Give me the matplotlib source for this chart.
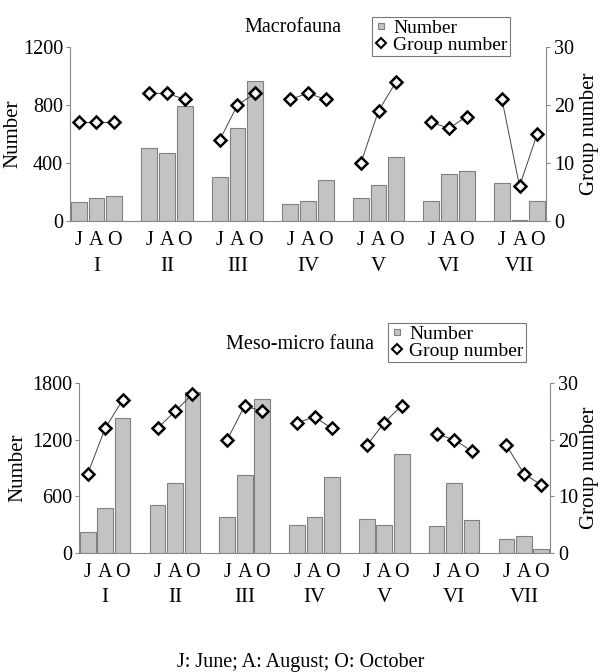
import matplotlib
matplotlib.use("Agg")
import matplotlib.pyplot as plt
from matplotlib.lines import Line2D
import numpy as np

plt.rcParams['font.family'] = ['Liberation Serif', 'DejaVu Serif']

sites = ["I", "II", "III", "IV", "V", "VI", "VII"]
months = ["J", "A", "O"]

macro_number = [128, 162, 169, 505, 471, 795, 305, 639, 967, 118, 138, 284,
                157, 247, 443, 138, 325, 344, 263, 7, 138]
macro_groups = [17, 17, 17, 22, 22, 21, 14, 20, 22, 21, 22, 21,
                10, 19, 24, 17, 16, 18, 21, 6, 15]

meso_number = [222, 476, 1430, 508, 738, 1701, 385, 826, 1631, 297, 385, 805,
               360, 297, 1048, 290, 738, 346, 148, 184, 42]
meso_groups = [14, 22, 27, 22, 25, 28, 20, 26, 25, 23, 24, 22,
               19, 23, 26, 21, 20, 18, 19, 14, 12]

W, H = 602, 672
fig = plt.figure(figsize=(W / 100, H / 100), dpi=100)

FS = 14.5
LFS = 15
BAR_C = '#c3c3c3'
EDGE_C = '#808080'
SPINE_C = '#888888'
PX = 72 / 100  # points per pixel


def panel(rect, number, groups, ymax, yticks, title, title_xy, legend_xy, lpad, rpad):
    ax = fig.add_axes(rect)
    x = []
    for g in range(len(sites)):
        for k in range(3):
            x.append(g * 4 + k)
    x = np.array(x)
    ax.bar(x, number, width=0.9, color=BAR_C, edgecolor=EDGE_C, linewidth=0.8, zorder=2)
    ax.set_xlim(-0.5, x[-1] + 0.5)
    ax.set_ylim(0, ymax)
    ax.set_yticks(yticks)
    ax.set_yticklabels([str(v) for v in yticks], fontsize=FS)
    ax.set_xticks(x)
    ax.set_xticklabels(months * len(sites), fontsize=FS)
    ax.tick_params(axis='x', length=0, pad=7.5)
    ax.tick_params(axis='y', length=3, color=SPINE_C, width=0.8, pad=2)
    ax.set_ylabel("Number", fontsize=LFS, labelpad=lpad)
    for s in ['top', 'right']:
        ax.spines[s].set_visible(False)
    for s in ['left', 'bottom']:
        ax.spines[s].set_color(SPINE_C)
        ax.spines[s].set_linewidth(0.8)
    # roman numerals (second row of x labels)
    for g, name in enumerate(sites):
        ax.annotate(name, xy=(g * 4 + 1, 0), xycoords=('data', 'axes fraction'),
                    xytext=(0, -45 * PX), textcoords='offset points',
                    ha='center', va='center', fontsize=15)

    ax2 = ax.twinx()
    ax2.set_ylim(0, 30)
    ax2.set_yticks([0, 10, 20, 30])
    ax2.set_yticklabels(["0", "10", "20", "30"], fontsize=FS)
    ax2.tick_params(axis='y', length=3, color=SPINE_C, width=0.8, pad=3)
    for s in ['top', 'left', 'bottom']:
        ax2.spines[s].set_visible(False)
    ax2.spines['right'].set_color(SPINE_C)
    ax2.spines['right'].set_linewidth(0.8)
    ax2.set_ylabel("Group number", fontsize=LFS, labelpad=rpad)
    for g in range(len(sites)):
        xs = x[g * 3:(g + 1) * 3]
        ys = groups[g * 3:(g + 1) * 3]
        ax2.plot(xs, ys, color='#444444', linewidth=0.7, marker='D', markersize=6,
                 markerfacecolor='white', markeredgecolor='black', markeredgewidth=1.8,
                 zorder=3)

    fig.text(title_xy[0] / W, 1 - title_xy[1] / H, title, ha='center', va='center', fontsize=FS)
    handles = [
        Line2D([], [], linestyle='none', marker='s', markersize=5, markerfacecolor=BAR_C,
               markeredgecolor=EDGE_C, markeredgewidth=0.8),
        Line2D([], [], linestyle='none', marker='D', markersize=5, markerfacecolor='white',
               markeredgecolor='black', markeredgewidth=1.5),
    ]
    leg = fig.legend(handles, ["Number", "Group number"], loc='upper left',
                     bbox_to_anchor=(legend_xy[0] / W, 1 - legend_xy[1] / H),
                     fontsize=14, frameon=True, fancybox=False, handlelength=0.7,
                     handletextpad=0.3, borderpad=0.1, labelspacing=0.0,
                     borderaxespad=0)
    leg.get_frame().set_edgecolor('#555555')
    leg.get_frame().set_linewidth(0.8)
    return ax


panel([70 / W, 1 - 221 / H, 476 / W, 174 / H], macro_number, macro_groups, 1200,
      [0, 400, 800, 1200], "Macrofauna", (293, 28), (372, 17), 0, 4)
panel([79 / W, 1 - 553 / H, 471 / W, 170 / H], meso_number, meso_groups, 1800,
      [0, 600, 1200, 1800], "Meso-micro fauna", (300, 345), (388, 323), 3, 1)

fig.text(0.5, 1 - 662 / H, "J: June; A: August; O: October", ha='center', va='center',
         fontsize=14.5)

fig.savefig("out.png", dpi=100)
